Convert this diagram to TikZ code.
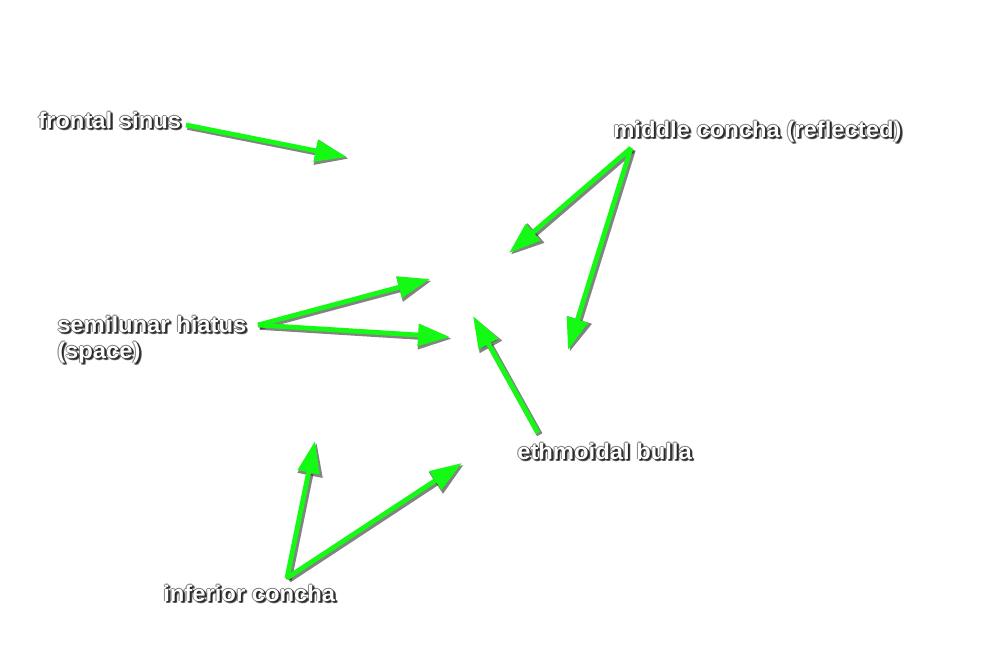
\documentclass[tikz,border=0pt]{standalone}
\usepackage{fontspec}
\setmainfont{Liberation Sans}[FakeStretch=1.05]
\usetikzlibrary{arrows.meta}
\definecolor{garr}{RGB}{20,250,20}
\definecolor{shd}{RGB}{30,30,30}
\tikzset{
  lbl/.style={inner sep=0pt, font=\fontsize{17}{19.5}\selectfont\bfseries, align=left},
  garrow/.style={draw=garr, line width=3.6pt, -{Triangle[length=24pt,width=16pt]}},
  sarrow/.style={draw=shd, opacity=0.55, line width=4.6pt, -{Triangle[length=25pt,width=18pt]}, transform canvas={xshift=1.3pt,yshift=-1.3pt}}
}
\newcommand\shlabel[4]{%
  \foreach \dx/\dy in {-0.7/0,0.7/0,0/0.7,0/-0.7,1.3/-1.3,0.9/-1.7,1.7/-0.9,1.8/-1.8}{%
    \node[lbl,text=shd,opacity=0.5,anchor=#2] at ([xshift=\dx pt,yshift=\dy pt]#3) {#4};}
  \node[lbl,text=white,anchor=#2] (#1) at (#3) {#4};}
\newcommand\garrow[2]{%
  \draw[sarrow] (#1) -- (#2);
  \draw[garrow] (#1) -- (#2);}
\begin{document}
\begin{tikzpicture}[x=0.75pt,y=-0.75pt]
\useasboundingbox (0,0) rectangle (1000,664);
\fill[white] (0,0) rectangle (1000,664);
% labels
\shlabel{fs}{base west}{38,128}{frontal sinus}
\shlabel{mc}{base west}{613,137}{middle concha (reflected)}
\shlabel{sh}{base west}{57,358}{semilunar hiatus\\(space)}
\shlabel{eb}{base west}{517,459}{ethmoidal bulla}
\shlabel{ic}{base west}{163,601}{inferior concha}
% connector ends
\coordinate (fs0) at (186,125);
\coordinate (fs1) at (347,157);
\coordinate (mc0) at (631,148);
\coordinate (mc1) at (509,253);
\coordinate (mc2) at (568,350);
\coordinate (sh0) at (258,325);
\coordinate (sh1) at (430,279);
\coordinate (sh2) at (450,337);
\coordinate (eb0) at (538,433);
\coordinate (eb1) at (473,316);
\coordinate (ic0) at (287,578);
\coordinate (ic1) at (315,441);
\coordinate (ic2) at (462,463);
% connectors
\garrow{fs0}{fs1}
\garrow{mc0}{mc1}
\garrow{mc0}{mc2}
\garrow{sh0}{sh1}
\garrow{sh0}{sh2}
\garrow{eb0}{eb1}
\garrow{ic0}{ic1}
\garrow{ic0}{ic2}
\end{tikzpicture}
\end{document}
